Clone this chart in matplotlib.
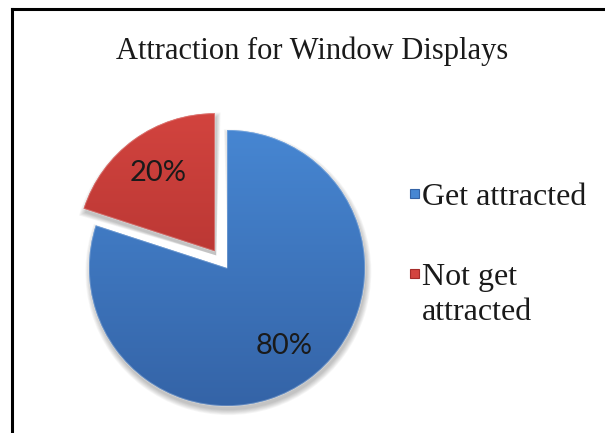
import numpy as np
import matplotlib.pyplot as plt
from matplotlib.patches import Wedge, Rectangle
from matplotlib.lines import Line2D
from matplotlib.colors import LinearSegmentedColormap

title = "Attraction for Window Displays"
categories = ["Get attracted", "Not get\nattracted"]
values = [80, 20]
explode = [0.0, 0.15]
colors_top = ["#4787d3", "#d3443f"]
colors_bot = ["#3463a6", "#a52c2a"]

W, H = 605, 433
fig = plt.figure(figsize=(W / 100, H / 100), dpi=100)

# pie axes positioned in pixel units
cx, cy, r_px = 227, 268, 138
half = 1.5 * r_px
ax = fig.add_axes([(cx - half) / W, (H - cy - half) / H, 2 * half / W, 2 * half / H])
ax.set_xlim(-1.5, 1.5)
ax.set_ylim(-1.5, 1.5)
ax.axis("off")

wedges, texts, autotexts = ax.pie(
    values, explode=explode, startangle=90, counterclock=False,
    colors=colors_top, autopct="%1.0f%%", pctdistance=0.70,
    textprops=dict(family=["Lato", "DejaVu Sans"], fontsize=21, color="#1a1a1a"),
    wedgeprops=dict(linewidth=0))

# soft shadows
for w in wedges:
    for i in range(7):
        sh = Wedge((w.center[0] + 0.01, w.center[1] - 0.03), w.r + 0.006 * i,
                   w.theta1 - 0.3 * i, w.theta2 + 0.3 * i,
                   facecolor="black", alpha=0.035, linewidth=0, zorder=0)
        ax.add_patch(sh)

# gradient fill clipped to each wedge
for w, ct, cb in zip(wedges, colors_top, colors_bot):
    w.set_zorder(1)
    cmap = LinearSegmentedColormap.from_list("g", [cb, ct])
    grad = np.linspace(0, 1, 256).reshape(-1, 1)
    x0, y0 = w.center
    im = ax.imshow(grad, cmap=cmap, origin="lower", aspect="auto",
                   extent=[x0 - 1.05, x0 + 1.05, y0 - 1.05, y0 + 1.05], zorder=2)
    im.set_clip_path(w)
    edge = Wedge(w.center, w.r, w.theta1, w.theta2, facecolor="none",
                 edgecolor="white", alpha=0.25, linewidth=1.2, zorder=3)
    ax.add_patch(edge)
for t in autotexts:
    t.set_zorder(5)
ax.set_xlim(-1.5, 1.5)
ax.set_ylim(-1.5, 1.5)

# title
fig.text(312 / W, 1 - 59 / H, title, ha="center", va="baseline",
         family="Liberation Serif", fontsize=22, color="#1a1a1a")

# legend drawn manually
leg_base = [205, 285]
line_step = 35
for lab, ct, cb, y in zip(categories, colors_top, colors_bot, leg_base):
    fig.add_artist(Rectangle((410 / W, 1 - (y - 7) / H), 9 / W, 9 / H,
                             transform=fig.transFigure, facecolor=ct,
                             edgecolor=cb, linewidth=0.8))
    for k, line in enumerate(lab.split("\n")):
        fig.text(422 / W, 1 - (y + k * line_step) / H, line, ha="left",
                 va="baseline", family="Liberation Serif", fontsize=23,
                 color="#1a1a1a")

# border (left and top)
fig.add_artist(Line2D([12 / W, 12 / W], [0, 1 - 9 / H], transform=fig.transFigure,
                      color="black", linewidth=2.2))
fig.add_artist(Line2D([12 / W, 1], [1 - 9 / H, 1 - 9 / H], transform=fig.transFigure,
                      color="black", linewidth=2.2))

fig.savefig("out.png", dpi=100)
